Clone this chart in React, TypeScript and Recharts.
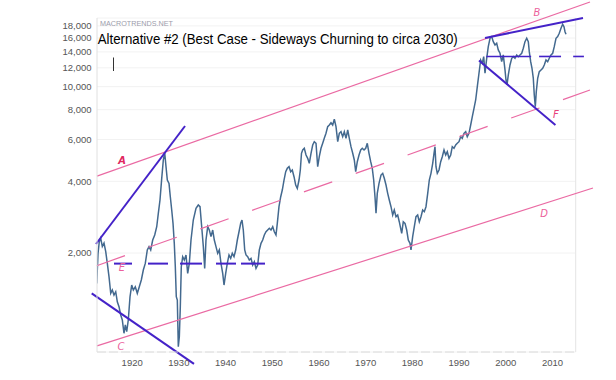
import { LineChart, Line, XAxis, YAxis, CartesianGrid, ReferenceLine } from 'recharts';

// Dow Jones (inflation adjusted)
const years = [
  1914.67, 1914.95, 1915.22, 1915.52, 1915.87, 1916.23, 1916.6, 1916.94, 1917.3, 1917.67,
  1918.01, 1918.37, 1918.74, 1919.08, 1919.44, 1919.81, 1920.15, 1920.51, 1920.79, 1921.09,
  1921.43, 1921.8, 1922.16, 1922.51, 1922.93, 1923.36, 1923.79, 1924.22, 1924.65, 1925.07,
  1925.5, 1925.87, 1926.23, 1926.66, 1927.09, 1927.52, 1927.86, 1928.22, 1928.59, 1928.93,
  1929.23, 1929.51, 1929.79, 1930.15, 1930.43, 1930.73, 1931.01, 1931.28, 1931.5, 1931.71,
  1931.93, 1932.14, 1932.36, 1932.57, 1932.78, 1933.08, 1933.43, 1933.79, 1934.15, 1934.5,
  1934.86, 1935.35, 1935.93, 1936.42, 1936.79, 1937.15, 1937.5, 1937.79, 1938.07, 1938.44,
  1938.78, 1939.14, 1939.51, 1939.85, 1940.21, 1940.58, 1940.92, 1941.28, 1941.65, 1941.93,
  1942.29, 1942.63, 1943.0, 1943.36, 1943.7, 1944.07, 1944.43, 1944.78, 1945.14, 1945.5,
  1945.78, 1946.06, 1946.36, 1946.64, 1947.0, 1947.34, 1947.71, 1948.07, 1948.42, 1948.78,
  1949.14, 1949.49, 1949.85, 1950.21, 1950.56, 1950.92, 1951.28, 1951.63, 1951.99, 1952.36,
  1952.7, 1953.06, 1953.34, 1953.7, 1954.07, 1954.41, 1954.78, 1955.14, 1955.48, 1955.85,
  1956.21, 1956.55, 1956.92, 1957.28, 1957.62, 1957.99, 1958.27, 1958.52, 1958.78, 1959.12,
  1959.49, 1959.85, 1960.19, 1960.56, 1960.92, 1961.26, 1961.63, 1961.99, 1962.33, 1962.7,
  1963.06, 1963.4, 1963.77, 1964.13, 1964.48, 1964.84, 1965.2, 1965.55, 1965.91, 1966.28,
  1966.62, 1966.98, 1967.34, 1967.69, 1968.05, 1968.42, 1968.76, 1969.12, 1969.49, 1969.83,
  1970.13, 1970.47, 1970.84, 1971.2, 1971.54, 1971.91, 1972.27, 1972.61, 1972.98, 1973.34,
  1973.68, 1973.98, 1974.26, 1974.48, 1974.75, 1975.12, 1975.55, 1975.91, 1976.25, 1976.62,
  1976.98, 1977.32, 1977.69, 1978.05, 1978.39, 1978.76, 1979.12, 1979.46, 1979.98, 1980.32,
  1980.69, 1981.05, 1981.39, 1981.76, 1981.97, 1982.33, 1982.68, 1983.04, 1983.4, 1983.75,
  1984.11, 1984.47, 1984.82, 1985.18, 1985.55, 1985.89, 1986.25, 1986.62, 1986.9, 1987.11,
  1987.32, 1987.6, 1987.97, 1988.33, 1988.67, 1989.04, 1989.4, 1989.74, 1990.11, 1990.47,
  1990.81, 1991.18, 1991.54, 1991.88, 1992.25, 1992.61, 1992.95, 1993.32, 1993.68, 1994.02,
  1994.39, 1994.75, 1995.1, 1995.46, 1995.82, 1996.17, 1996.53, 1996.89, 1997.24, 1997.54,
  1997.82, 1998.18, 1998.52, 1998.89, 1999.25, 1999.59, 1999.96, 2000.32, 2000.66, 2001.03,
  2001.39, 2001.73, 2002.1, 2002.31, 2002.53, 2002.81, 2003.17, 2003.54, 2003.88, 2004.24,
  2004.61, 2004.95, 2005.31, 2005.68, 2006.02, 2006.38, 2006.75, 2007.09, 2007.3, 2007.6,
  2007.88, 2008.16, 2008.37, 2008.59, 2008.8, 2009.1, 2009.44, 2009.81, 2010.17, 2010.51,
  2010.88, 2011.24, 2011.58, 2011.95, 2012.31, 2012.65, 2013.02, 2013.38, 2013.72, 2014.09,
  2014.45, 2014.73, 2014.95, 2015.16,
];

const dow = [
  1490, 1990, 2230, 2310, 2130, 2200, 2025, 1810, 1590, 1354,
  1398, 1332, 1375, 1248, 1190, 1098, 1046, 920, 997, 934,
  1046, 1310, 1467, 1398, 1443, 1354, 1443, 1540, 1696, 1809,
  2059, 2127, 2059, 2268, 2380, 2579, 2936, 3339, 4119, 4918,
  5278, 4609, 4052, 3924, 3447, 3031, 2665, 2197, 1751, 1310,
  1269, 808, 890, 1190, 1751, 1929, 1868, 1962, 1643, 1809,
  2268, 2752, 3081, 3182, 3130, 2579, 2127, 1724, 2268, 2579,
  2498, 2342, 2498, 2268, 2127, 1994, 2059, 1809, 1643, 1467,
  1643, 1809, 1962, 1899, 1994, 1930, 2059, 2268, 2457, 2665,
  2752, 2498, 2059, 1962, 1929, 1868, 1899, 1780, 1838, 1724,
  1780, 2059, 2197, 2268, 2380, 2457, 2498, 2540, 2498, 2579,
  2457, 2380, 2665, 3130, 3447, 3678, 4052, 4391, 4538, 4609,
  4391, 4464, 4184, 3860, 3739, 4052, 4464, 5248, 5418, 5508,
  5162, 5000, 4763, 5248, 5687, 5871, 5780, 4609, 5078, 5508,
  5780, 6067, 6368, 6789, 6900, 7056, 6900, 7292, 6789, 5871,
  6368, 6468, 6162, 6468, 6067, 6575, 6067, 5594, 5248, 4918,
  4391, 4838, 5162, 5418, 5508, 5418, 5508, 5780, 5248, 4838,
  4538, 4052, 3447, 2936, 3562, 3924, 4253, 4323, 4119, 3860,
  3562, 3339, 3130, 2888, 3031, 2841, 2888, 2707, 2419, 2707,
  2665, 2498, 2268, 2197, 2059, 2342, 2579, 2841, 2888, 2707,
  2841, 3031, 2982, 3130, 3562, 4052, 4323, 4763, 5248, 5594,
  4609, 4323, 4464, 4838, 5078, 5418, 5162, 5330, 5000, 5162,
  5594, 5508, 5687, 5780, 5871, 6162, 6067, 6368, 6468, 6162,
  6368, 6900, 7478, 8111, 8790, 9999, 11382, 12945, 12538, 13366,
  11382, 13150, 14725, 15966, 16222, 15449, 14967, 15215, 14261, 13812,
  12734, 13588, 11752, 10668, 10165, 11198, 12334, 13160, 13366, 13160,
  13588, 13366, 13588, 13812, 14498, 15449, 15966, 15449, 14028, 12734,
  11947, 10845, 9227, 8238, 9526, 10845, 11560, 11752, 11947, 12334,
  12945, 12734, 13160, 13588, 13812, 14725, 15966, 16222, 16755, 17587,
  18281, 17862, 17017, 16595,
];

const yTicks = [2000, 4000, 6000, 8000, 10000, 12000, 14000, 16000, 18000];
const xTicks = [1920, 1930, 1940, 1950, 1960, 1970, 1980, 1990, 2000, 2010];

// hand drawn annotations, endpoints as [year, value]
const channelUpper = [[1914.73, 4210], [2020.3, 22690]];
const channelLower = [[1914.73, 814], [2020.94, 3750]];
const channelMid = [[1914.67, 1768], [2020.3, 9684]];

const purpleLines = [
  [[1914.52, 2182], [1933.58, 6834]],
  [[1913.6, 1354], [1935.5, 684]],
  [[1997.82, 16012], [2018.8, 19430]],
  [[1996.53, 12880], [2012.9, 6901]],
];
const purpleDashLeft = [[1918.37, 1922.23], [1925.65, 1929.94], [1932.51, 1937.22], [1940.21, 1944.5], [1945.57, 1950.71]];
const purpleDashLeftValue = 1805;
const purpleDashRight = [[1998.1, 2007.7], [2009.4, 2014.1], [2016.7, 2019.0]];
const purpleDashRightValue = 13390;

const letters = [
  { t: 'A', x: 122, y: 160, c: '#e0285f', w: 700 },
  { t: 'B', x: 537, y: 12, c: '#ec5f9c', w: 400 },
  { t: 'C', x: 121, y: 346, c: '#ec5f9c', w: 400 },
  { t: 'D', x: 544, y: 213, c: '#ec5f9c', w: 400 },
  { t: 'E', x: 122, y: 267, c: '#ec5f9c', w: 400 },
  { t: 'F', x: 556, y: 114, c: '#e8407a', w: 400 },
];

const data = years.map((year, i) => ({ year, dow: dow[i] }));

const PINK = '#ea6aa3';
const PURPLE = '#4422c8';
const FONT = "Arial, 'Liberation Sans', sans-serif";

const YTick = ({ x, y, payload }: any) => (
  <text x={x - 5.5} y={y + 3.4} textAnchor="end" fontSize={9.5} fill="#555" fontFamily={FONT}>
    {payload.value.toLocaleString('en-US')}
  </text>
);

const XTick = ({ x, y, payload }: any) => (
  <text x={x} y={y + 14} textAnchor="start" fontSize={9.5} fill="#555" fontFamily={FONT}>
    {payload.value}
  </text>
);

const seg = (a: number[], b: number[]) => [{ x: a[0], y: a[1] }, { x: b[0], y: b[1] }];

export default function App() {
  return (
    <div style={{ position: 'absolute', left: 0, top: 0, width: 616, height: 380, background: '#fff' }}>
      <LineChart width={616} height={380} data={data} margin={{ top: 18, right: 40.3, bottom: 0, left: 0 }}>
        <CartesianGrid vertical={false} stroke="#f2f2f2" />
        <XAxis
          dataKey="year"
          type="number"
          domain={[1914.73, 2017.24]}
          allowDataOverflow
          ticks={xTicks}
          interval={0}
          tick={<XTick />}
          tickLine={false}
          tickSize={0}
          tickMargin={0}
          height={28}
          axisLine={{ stroke: '#dadada', strokeDasharray: '9 3' }}
        />
        <YAxis
          scale="log"
          domain={[767.5, 19428]}
          allowDataOverflow
          ticks={yTicks}
          interval={0}
          tick={<YTick />}
          tickLine={false}
          tickSize={0}
          tickMargin={0}
          width={97}
          axisLine={{ stroke: '#e0e0e0' }}
        />
        <ReferenceLine x={2017.24} stroke="#e4e4e4" ifOverflow="visible" />
        <Line
          type="linear"
          dataKey="dow"
          stroke="#43698f"
          strokeWidth={1.5}
          dot={false}
          isAnimationActive={false}
        />
        <ReferenceLine segment={seg(channelUpper[0], channelUpper[1])} stroke={PINK} strokeWidth={1.2} ifOverflow="visible" />
        <ReferenceLine segment={seg(channelLower[0], channelLower[1])} stroke={PINK} strokeWidth={1.2} ifOverflow="visible" />
        <ReferenceLine
          segment={seg(channelMid[0], channelMid[1])}
          stroke={PINK}
          strokeWidth={1.2}
          strokeDasharray="30 25"
          ifOverflow="visible"
        />
        {purpleLines.map((l, i) => (
          <ReferenceLine key={'p' + i} segment={seg(l[0], l[1])} stroke={PURPLE} strokeWidth={2} ifOverflow="visible" />
        ))}
        {purpleDashLeft.map((d, i) => (
          <ReferenceLine
            key={'dl' + i}
            segment={seg([d[0], purpleDashLeftValue], [d[1], purpleDashLeftValue])}
            stroke={PURPLE}
            strokeWidth={2}
            ifOverflow="visible"
          />
        ))}
        {purpleDashRight.map((d, i) => (
          <ReferenceLine
            key={'dr' + i}
            segment={seg([d[0], purpleDashRightValue], [d[1], purpleDashRightValue])}
            stroke={PURPLE}
            strokeWidth={1.6}
            ifOverflow="visible"
          />
        ))}
      </LineChart>
      <svg width={616} height={380} style={{ position: 'absolute', left: 0, top: 0, pointerEvents: 'none' }}>
        <text x={100} y={26} fontSize={7.5} fill="#9c9cab" fontFamily={FONT} textLength={73} lengthAdjust="spacingAndGlyphs">
          MACROTRENDS.NET
        </text>
        <text x={97.7} y={43.5} fontSize={14} fill="#000" fontFamily={FONT} textLength={360} lengthAdjust="spacingAndGlyphs">
          Alternative #2 (Best Case - Sideways Churning to circa 2030)
        </text>
        <line x1={113.5} y1={57.5} x2={113.5} y2={71} stroke="#333" strokeWidth={1} />
        {letters.map((l) => (
          <text
            key={l.t}
            x={l.x}
            y={l.y}
            fill={l.c}
            fontSize={10}
            fontWeight={l.w}
            fontFamily="'DejaVu Sans', sans-serif"
            textAnchor="middle"
            dominantBaseline="central"
            fontStyle="italic"
          >
            {l.t}
          </text>
        ))}
      </svg>
    </div>
  );
}
